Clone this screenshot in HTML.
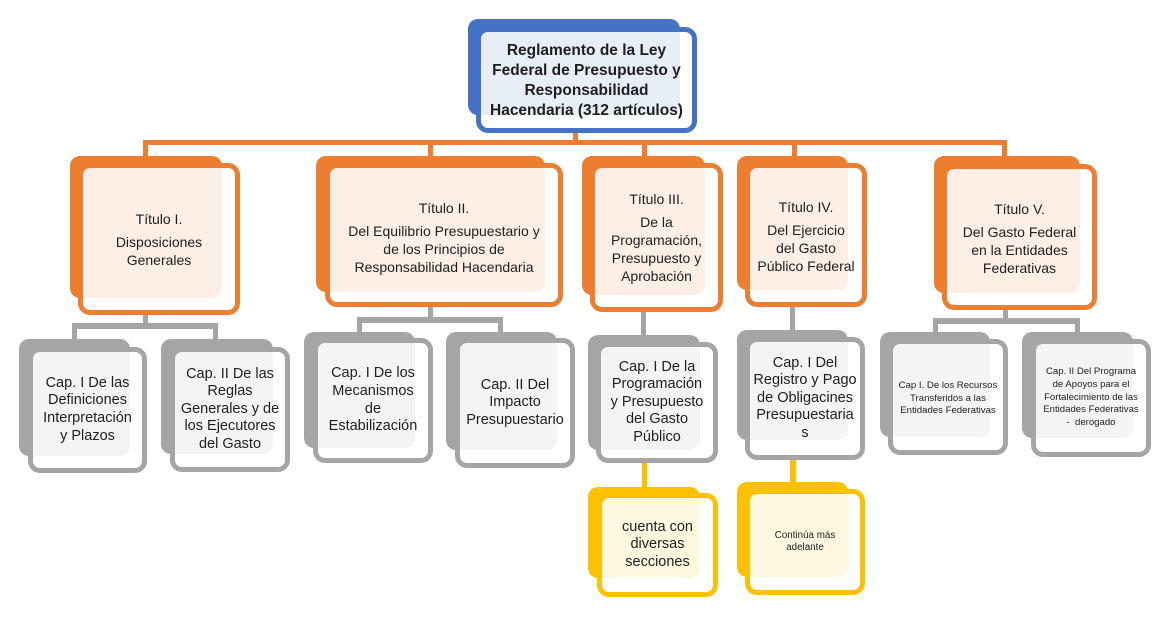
<!DOCTYPE html>
<html><head><meta charset="utf-8">
<style>
html,body{margin:0;padding:0;background:#fff;}
body{width:1167px;height:625px;position:relative;overflow:hidden;font-family:"Liberation Sans",Arial,sans-serif;color:#1e1e1e;}
.c{position:absolute;}
.o{background:#ED7D31;}
.g{background:#A5A5A5;}
.y{background:#FFC000;}
.bk{position:absolute;border-radius:10px;}
.fr{position:absolute;box-sizing:border-box;border:5px solid;border-radius:12px;background:rgba(255,255,255,0.88);display:flex;flex-direction:column;align-items:center;justify-content:center;text-align:center;}
.fr.o,.fr.g,.fr.y,.fr.b{background:rgba(255,255,255,0.88);}
.bo{border-color:#ED7D31;} .bg{border-color:#A5A5A5;} .by{border-color:#FFC000;} .bb{border-color:#4472C4;}
.t{font-size:14px;line-height:18px;}
.t .h{margin-bottom:5px;}
.cap{font-size:14.5px;line-height:17.6px;}
.sm{font-size:9.6px;line-height:12.8px;}
</style></head><body>

<!-- orange connectors -->
<div class="c o" style="left:573px;top:128px;width:5px;height:15px;"></div>
<div class="c o" style="left:143px;top:140px;width:864px;height:5px;"></div>
<div class="c o" style="left:143px;top:140px;width:5px;height:17px;"></div>
<div class="c o" style="left:428px;top:140px;width:5px;height:17px;"></div>
<div class="c o" style="left:642px;top:140px;width:5px;height:17px;"></div>
<div class="c o" style="left:792px;top:140px;width:5px;height:17px;"></div>
<div class="c o" style="left:1002px;top:140px;width:5px;height:17px;"></div>

<!-- gray connectors -->
<div class="c g" style="left:143px;top:310px;width:5px;height:16px;"></div>
<div class="c g" style="left:72px;top:323px;width:146px;height:6px;"></div>
<div class="c g" style="left:72px;top:323px;width:5px;height:17px;"></div>
<div class="c g" style="left:213px;top:323px;width:5px;height:17px;"></div>

<div class="c g" style="left:428px;top:302px;width:5px;height:18px;"></div>
<div class="c g" style="left:357px;top:317px;width:146px;height:6px;"></div>
<div class="c g" style="left:357px;top:317px;width:5px;height:16px;"></div>
<div class="c g" style="left:498px;top:317px;width:5px;height:16px;"></div>

<div class="c g" style="left:641px;top:308px;width:5px;height:28px;"></div>
<div class="c g" style="left:790px;top:303px;width:5px;height:28px;"></div>

<div class="c g" style="left:1003px;top:305px;width:5px;height:16px;"></div>
<div class="c g" style="left:933px;top:318px;width:147px;height:6px;"></div>
<div class="c g" style="left:933px;top:318px;width:5px;height:15px;"></div>
<div class="c g" style="left:1075px;top:318px;width:5px;height:15px;"></div>

<!-- yellow connectors -->
<div class="c y" style="left:642px;top:458px;width:5px;height:30px;"></div>
<div class="c y" style="left:790px;top:455px;width:6px;height:28px;"></div>

<!-- Top node -->
<div class="bk" style="left:468px;top:19px;width:212px;height:96px;background:#4472C4;"></div>
<div class="fr bb" style="left:476px;top:27px;width:221px;height:106px;font-weight:bold;font-size:15.5px;line-height:20px;padding-top:2px;">
<div>Reglamento de la Ley<br>Federal de Presupuesto y<br>Responsabilidad<br>Hacendaria (312 artículos)</div></div>

<!-- Titles -->
<div class="bk o" style="left:70px;top:156px;width:152px;height:142px;"></div>
<div class="fr bo t" style="left:78px;top:163px;width:162px;height:152px;"><div class="h">Título I.</div><div>Disposiciones<br>Generales</div></div>

<div class="bk o" style="left:316px;top:156px;width:229px;height:136px;"></div>
<div class="fr bo t" style="left:325px;top:163px;width:238px;height:144px;padding-top:4px;"><div class="h">Título II.</div><div>Del Equilibrio Presupuestario y<br>de los Principios de<br>Responsabilidad Hacendaria</div></div>

<div class="bk o" style="left:582px;top:156px;width:123px;height:139px;"></div>
<div class="fr bo t" style="left:590px;top:163px;width:133px;height:149px;"><div class="h">Título III.</div><div>De la<br>Programación,<br>Presupuesto y<br>Aprobación</div></div>

<div class="bk o" style="left:737px;top:156px;width:111px;height:134px;"></div>
<div class="fr bo t" style="left:745px;top:163px;width:122px;height:144px;padding-top:2px;"><div class="h">Título IV.</div><div>Del Ejercicio<br>del Gasto<br>Público Federal</div></div>

<div class="bk o" style="left:934px;top:156px;width:146px;height:137px;"></div>
<div class="fr bo t" style="left:942px;top:164px;width:155px;height:146px;padding-top:2px;"><div class="h">Título V.</div><div>Del Gasto Federal<br>en la Entidades<br>Federativas</div></div>

<!-- Caps -->
<div class="bk g" style="left:19px;top:339px;width:111px;height:117px;"></div>
<div class="fr bg cap" style="left:28px;top:347px;width:119px;height:126px;"><div>Cap. I De las<br>Definiciones<br>Interpretación<br>y Plazos</div></div>

<div class="bk g" style="left:161px;top:339px;width:112px;height:115px;"></div>
<div class="fr bg cap" style="left:170px;top:347px;width:120px;height:125px;"><div>Cap. II De las<br>Reglas<br>Generales y de<br>los Ejecutores<br>del Gasto</div></div>

<div class="bk g" style="left:304px;top:332px;width:111px;height:116px;"></div>
<div class="fr bg cap" style="left:313px;top:338px;width:120px;height:125px;"><div>Cap. I De los<br>Mecanismos<br>de<br>Estabilización</div></div>

<div class="bk g" style="left:446px;top:332px;width:111px;height:118px;"></div>
<div class="fr bg cap" style="left:455px;top:338px;width:120px;height:130px;"><div>Cap. II Del<br>Impacto<br>Presupuestario</div></div>

<div class="bk g" style="left:588px;top:335px;width:112px;height:115px;"></div>
<div class="fr bg cap" style="left:596px;top:342px;width:122px;height:121px;"><div>Cap. I De la<br>Programación<br>y Presupuesto<br>del Gasto<br>Público</div></div>

<div class="bk g" style="left:737px;top:330px;width:111px;height:110px;"></div>
<div class="fr bg cap" style="left:745px;top:337px;width:120px;height:123px;"><div>Cap. I Del<br>Registro y Pago<br>de Obligacines<br>Presupuestaria<br>s</div></div>

<div class="bk g" style="left:880px;top:332px;width:110px;height:105px;"></div>
<div class="fr bg sm" style="left:888px;top:339px;width:120px;height:116px;padding-top:4px;"><div>Cap I. De los Recursos<br>Transferidos a las<br>Entidades Federativas</div></div>

<div class="bk g" style="left:1022px;top:332px;width:111px;height:106px;"></div>
<div class="fr bg sm" style="left:1031px;top:339px;width:120px;height:118px;"><div>Cap. II Del Programa<br>de Apoyos para el<br>Fortalecimiento de las<br>Entidades Federativas<br>-&nbsp; derogado</div></div>

<!-- Yellow -->
<div class="bk y" style="left:588px;top:487px;width:112px;height:91px;"></div>
<div class="fr by cap" style="left:597px;top:493px;width:121px;height:104px;"><div>cuenta con<br>diversas<br>secciones</div></div>

<div class="bk y" style="left:737px;top:482px;width:111px;height:95px;"></div>
<div class="fr by" style="left:745px;top:489px;width:120px;height:106px;font-size:9.8px;line-height:12.5px;"><div>Continúa más<br>adelante</div></div>

</body></html>
